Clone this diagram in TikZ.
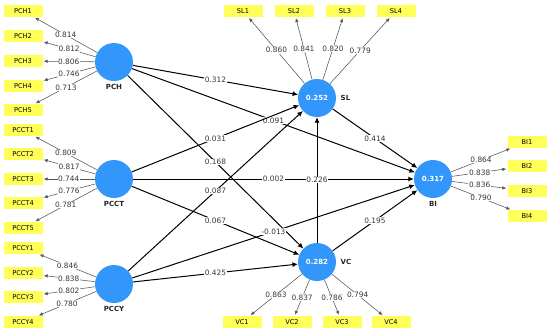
\documentclass[tikz,border=0pt]{standalone}
\usepackage{fontspec}
\setmainfont{DejaVu Sans}
\usetikzlibrary{arrows.meta,positioning}
\definecolor{lvblue}{RGB}{51,150,250}
\definecolor{mvyellow}{RGB}{255,255,90}
\definecolor{loadgray}{RGB}{85,85,85}
\definecolor{numgray}{RGB}{55,55,55}

\begin{document}
\begin{tikzpicture}[
  x=1pt, y=-1pt,
  lv/.style={circle, fill=lvblue, minimum size=38pt, inner sep=0pt, text=white, font=\fontsize{7}{8}\selectfont\bfseries},
  lvname/.style={font=\fontsize{7}{8}\selectfont\bfseries, text=black!85},
  mv/.style={rectangle, fill=mvyellow, minimum width=39pt, minimum height=12pt, inner sep=0pt, font=\fontsize{6.6}{7}\selectfont},
  coef/.style={fill=white, inner sep=0.6pt, font=\fontsize{7.4}{8}\selectfont, text=numgray},
  load/.style={-{Latex[length=4pt,width=3.5pt]}, draw=loadgray, line width=0.55pt, shorten >=1pt},
  rel/.style={-{Latex[length=5.5pt,width=5pt]}, line width=1pt}
]
\useasboundingbox (0,0) rectangle (550,333);

% latent variables
\node[lv] (pch) at (114,62) {};
\node[lv] (pcct) at (114,179) {};
\node[lv] (pccy) at (114,284) {};
\node[lv] (sl) at (317,98) {0.252};
\node[lv] (vc) at (317,262) {0.282};
\node[lv] (bi) at (433,179) {0.317};
\node[lvname, below=0pt of pch] (pchname) {PCH};
\node[lvname, below=0pt of pcct] (pcctname) {PCCT};
\node[lvname, below=0pt of pccy] (pccyname) {PCCY};
\node[lvname, right=1pt of sl] (slname) {SL};
\node[lvname, right=1pt of vc] (vcname) {VC};
\node[lvname, below=0pt of bi] (biname) {BI};

% indicators
\node[mv] (pch1) at (23,11) {PCH1};
\node[mv] (pch2) at (23,36) {PCH2};
\node[mv] (pch3) at (23,61) {PCH3};
\node[mv] (pch4) at (23,86) {PCH4};
\node[mv] (pch5) at (23,110) {PCH5};
\node[mv] (pcct1) at (23,130) {PCCT1};
\node[mv] (pcct2) at (23,154) {PCCT2};
\node[mv] (pcct3) at (23,179) {PCCT3};
\node[mv] (pcct4) at (23,203) {PCCT4};
\node[mv] (pcct5) at (23,228) {PCCT5};
\node[mv] (pccy1) at (23,248) {PCCY1};
\node[mv] (pccy2) at (23,273) {PCCY2};
\node[mv] (pccy3) at (23,297) {PCCY3};
\node[mv] (pccy4) at (23,322) {PCCY4};
\node[mv] (sl1) at (243,11) {SL1};
\node[mv] (sl2) at (294,11) {SL2};
\node[mv] (sl3) at (345,11) {SL3};
\node[mv] (sl4) at (396,11) {SL4};
\node[mv] (vc1) at (242,322) {VC1};
\node[mv] (vc2) at (292,322) {VC2};
\node[mv] (vc3) at (342,322) {VC3};
\node[mv] (vc4) at (391,322) {VC4};
\node[mv] (bi1) at (527,142) {BI1};
\node[mv] (bi2) at (527,166) {BI2};
\node[mv] (bi3) at (527,191) {BI3};
\node[mv] (bi4) at (527,216) {BI4};

% outer loadings
\draw[load] (pch) -- node[coef] {0.814} (pch1);
\draw[load] (pch) -- node[coef] {0.812} (pch2);
\draw[load] (pch) -- node[coef] {0.806} (pch3);
\draw[load] (pch) -- node[coef] {0.746} (pch4);
\draw[load] (pch) -- node[coef] {0.713} (pch5);
\draw[load] (pcct) -- node[coef] {0.809} (pcct1);
\draw[load] (pcct) -- node[coef] {0.817} (pcct2);
\draw[load] (pcct) -- node[coef] {0.744} (pcct3);
\draw[load] (pcct) -- node[coef] {0.776} (pcct4);
\draw[load] (pcct) -- node[coef] {0.781} (pcct5);
\draw[load] (pccy) -- node[coef] {0.846} (pccy1);
\draw[load] (pccy) -- node[coef] {0.838} (pccy2);
\draw[load] (pccy) -- node[coef] {0.802} (pccy3);
\draw[load] (pccy) -- node[coef] {0.780} (pccy4);
\draw[load] (sl) -- node[coef] {0.860} (sl1);
\draw[load] (sl) -- node[coef] {0.841} (sl2);
\draw[load] (sl) -- node[coef] {0.820} (sl3);
\draw[load] (sl) -- node[coef] {0.779} (sl4);
\draw[load] (vc) -- node[coef] {0.863} (vc1);
\draw[load] (vc) -- node[coef] {0.837} (vc2);
\draw[load] (vc) -- node[coef] {0.786} (vc3);
\draw[load] (vc) -- node[coef] {0.794} (vc4);
\draw[load] (bi) -- node[coef] {0.864} (bi1);
\draw[load] (bi) -- node[coef] {0.838} (bi2);
\draw[load] (bi) -- node[coef] {0.836} (bi3);
\draw[load] (bi) -- node[coef] {0.790} (bi4);

% path coefficients
\draw[rel] (pch) -- node[coef] {0.312} (sl);
\draw[rel] (pch) -- node[coef] {0.091} (bi);
\draw[rel] (pch) -- node[coef] {0.168} (vc);
\draw[rel] (pcct) -- node[coef] {0.031} (sl);
\draw[rel] (pcct) -- node[coef] {0.067} (vc);
\draw[rel] (pccy) -- node[coef] {0.087} (sl);
\draw[rel] (pccy) -- node[coef] {-0.013} (bi);
\draw[rel] (pccy) -- node[coef] {0.425} (vc);
\draw[rel] (pcct) -- node[coef] {0.002} (bi);
\draw[rel] (vc) -- node[coef] {0.226} (sl);
\draw[rel] (sl) -- node[coef] {0.414} (bi);
\draw[rel] (vc) -- node[coef] {0.195} (bi);
\end{tikzpicture}
\end{document}
